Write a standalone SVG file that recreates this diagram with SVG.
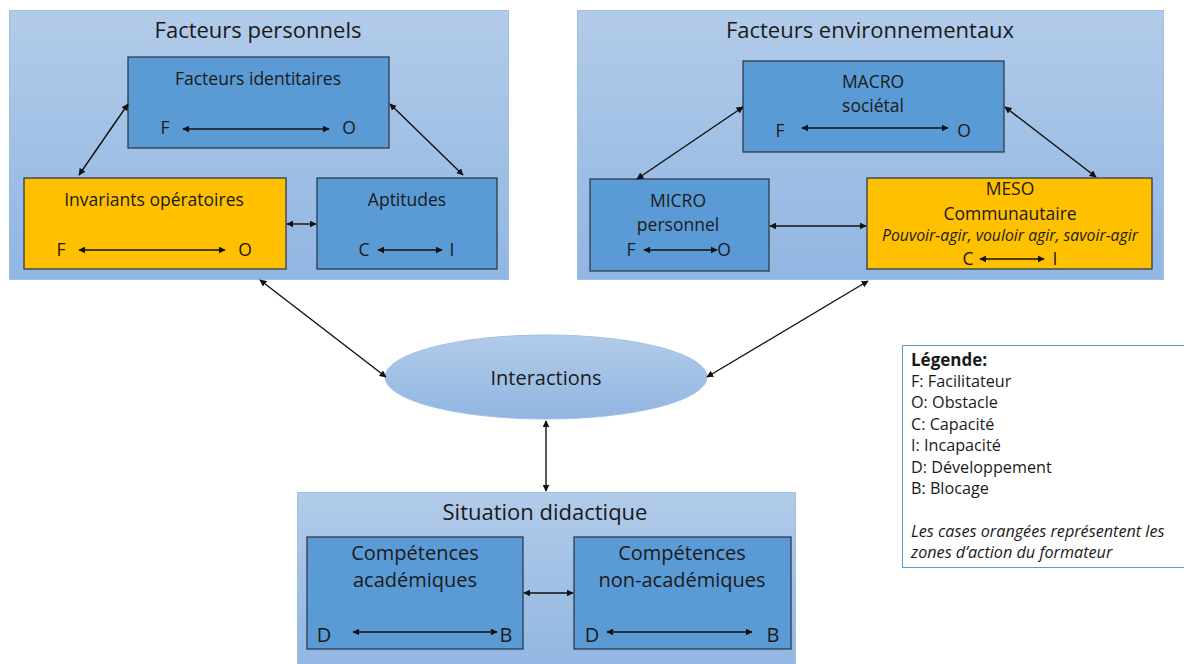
<svg xmlns="http://www.w3.org/2000/svg" width="1184" height="664" viewBox="0 0 1184 664">
<style>
text{font-family:"Open Sans","Noto Sans","DejaVu Sans",sans-serif;fill:#1a1a1a}
.t{font-size:22px;text-anchor:middle}
.h{font-size:17.5px;text-anchor:middle}
.l{font-size:17.5px;text-anchor:middle}
.c{font-size:20px;text-anchor:middle}
.it{font-style:italic}
.lg{font-size:16.2px}
.outer{fill:url(#og);stroke:#9fc0e6;stroke-width:1}
.blue{fill:#5b9bd5;stroke:#2d3b4b;stroke-width:1.3}
.org{fill:#ffc000;stroke:#2d3b4b;stroke-width:1.3}
.cn line,.ar{stroke:#111;stroke-width:1.4;marker-start:url(#ah);marker-end:url(#ah)}
</style>
<defs>
<linearGradient id="og" x1="0" y1="0" x2="0" y2="1">
<stop offset="0" stop-color="#b2cbe9"/>
<stop offset="1" stop-color="#91b6e2"/>
</linearGradient>
<marker id="ah" viewBox="0 0 10 10" refX="9" refY="5" markerWidth="7" markerHeight="7" markerUnits="userSpaceOnUse" orient="auto-start-reverse">
<path d="M0,0 L10,5 L0,10 z" fill="#111"/>
</marker>
</defs>

<g id="facteurs-personnels">
<rect class="outer" x="9.5" y="10.5" width="499" height="269"/>
<text class="t" x="258" y="38">Facteurs personnels</text>
</g>
<g id="facteurs-identitaires">
<rect class="blue" x="128" y="57" width="261" height="91"/>
<text class="h" x="258" y="85">Facteurs identitaires</text>
<text class="l" x="165" y="134">F</text>
<text class="l" x="349" y="134">O</text>
<line class="ar" x1="183" y1="129" x2="329" y2="129"/>
</g>
<g id="invariants-operatoires">
<rect class="org" x="24" y="178" width="262" height="91"/>
<text class="h" x="154" y="206">Invariants opératoires</text>
<text class="l" x="61" y="256">F</text>
<text class="l" x="245" y="256">O</text>
<line class="ar" x1="79" y1="250" x2="225" y2="250"/>
</g>
<g id="aptitudes">
<rect class="blue" x="317" y="178" width="180" height="91"/>
<text class="h" x="407" y="206">Aptitudes</text>
<text class="l" x="364" y="256">C</text>
<text class="l" x="452" y="256">I</text>
<line class="ar" x1="378" y1="250" x2="442" y2="250"/>
</g>

<g id="facteurs-environnementaux">
<rect class="outer" x="577.5" y="10.5" width="586" height="269"/>
<text class="t" x="870" y="38">Facteurs environnementaux</text>
</g>
<g id="macro">
<rect class="blue" x="743" y="61" width="261" height="91"/>
<text class="h" x="873" y="88">MACRO</text>
<text class="h" x="873" y="112">sociétal</text>
<text class="l" x="780" y="137">F</text>
<text class="l" x="964" y="137">O</text>
<line class="ar" x1="802" y1="128" x2="948" y2="128"/>
</g>
<g id="micro">
<rect class="blue" x="590" y="179" width="179" height="92"/>
<text class="h" x="678" y="207">MICRO</text>
<text class="h" x="678" y="231">personnel</text>
<text class="l" x="631" y="256">F</text>
<text class="l" x="724" y="256">O</text>
<line class="ar" x1="644" y1="250" x2="717" y2="250"/>
</g>
<g id="meso">
<rect class="org" x="867" y="178" width="285" height="91"/>
<text class="h" x="1010" y="195">MESO</text>
<text class="h" x="1010" y="220">Communautaire</text>
<text class="h it" style="font-size:15.8px" x="1010" y="241">Pouvoir-agir, vouloir agir, savoir-agir</text>
<text class="l" x="968" y="265">C</text>
<text class="l" x="1055" y="265">I</text>
<line class="ar" x1="980" y1="259" x2="1044" y2="259"/>
</g>

<g id="interactions">
<ellipse cx="546" cy="377" rx="161" ry="42" fill="url(#og)" stroke="#9fc0e6" stroke-width="1"/>
<text x="546" y="385" style="font-size:20px;text-anchor:middle">Interactions</text>
</g>

<g id="situation-didactique">
<rect class="outer" x="297.5" y="492.5" width="498" height="175"/>
<text class="t" x="545" y="520">Situation didactique</text>
</g>
<g id="competences-academiques">
<rect class="blue" x="307" y="537" width="216" height="112"/>
<text class="c" x="415" y="560">Compétences</text>
<text class="c" x="415" y="587">académiques</text>
<text class="c" x="324" y="642">D</text>
<text class="c" x="506" y="642">B</text>
<line class="ar" x1="353" y1="632" x2="497" y2="632"/>
</g>
<g id="competences-non-academiques">
<rect class="blue" x="574" y="537" width="217" height="112"/>
<text class="c" x="682" y="560">Compétences</text>
<text class="c" x="682" y="587">non-académiques</text>
<text class="c" x="592" y="642">D</text>
<text class="c" x="773" y="642">B</text>
<line class="ar" x1="607" y1="632" x2="752" y2="632"/>
</g>

<g id="legende">
<rect x="902.5" y="345.5" width="290" height="222" fill="#fff" stroke="#5b9bd5" stroke-width="1"/>
<text class="lg" x="911" y="366" style="font-weight:bold;font-size:17px">Légende:</text>
<text class="lg" x="911" y="387">F: Facilitateur</text>
<text class="lg" x="911" y="408">O: Obstacle</text>
<text class="lg" x="911" y="430">C: Capacité</text>
<text class="lg" x="911" y="451">I: Incapacité</text>
<text class="lg" x="911" y="473">D: Développement</text>
<text class="lg" x="911" y="494">B: Blocage</text>
<text class="lg it" x="911" y="537">Les cases orangées représentent les</text>
<text class="lg it" x="911" y="558">zones d’action du formateur</text>
</g>

<g id="connectors" class="cn">
<line x1="128" y1="104" x2="79" y2="175"/>
<line x1="390" y1="104" x2="463" y2="175"/>
<line x1="287" y1="224" x2="316" y2="224"/>
<line x1="743" y1="107" x2="637" y2="179"/>
<line x1="1005" y1="107" x2="1096" y2="177"/>
<line x1="770" y1="226" x2="866" y2="226"/>
<line x1="260" y1="280" x2="386" y2="377"/>
<line x1="868" y1="281" x2="707" y2="377"/>
<line x1="546" y1="421" x2="546" y2="491"/>
<line x1="524" y1="593" x2="573" y2="593"/>
</g>
</svg>
